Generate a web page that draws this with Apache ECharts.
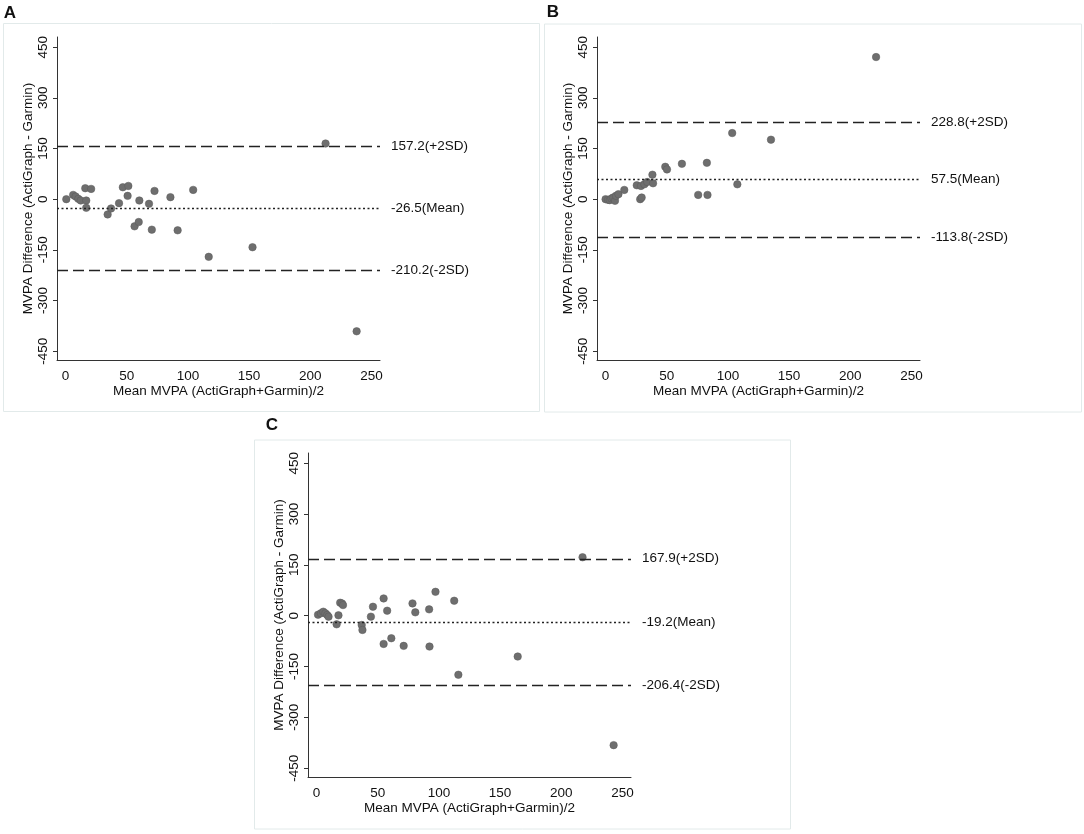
<!DOCTYPE html>
<html>
<head>
<meta charset="utf-8">
<script src="https://cdn.jsdelivr.net/npm/echarts@6/dist/echarts.min.js"></script>
<style>
  html, body { margin: 0; padding: 0; background: #fff; }
  #chart { width: 1084px; height: 834px; }
</style>
</head>
<body>
<div id="chart"></div>
<script>
// tick labels
var xTicks = [0, 50, 100, 150, 200, 250];
var yTicks = [-450, -300, -150, 0, 150, 300, 450];

// panel A : mean MVPA vs difference
var meanA = [0.6, 6.2, 8.2, 10.4, 12.4, 16.1, 16.9, 16.9, 20.9, 34.4, 37.2, 43.7, 46.8, 51.3,
             50.7, 56.4, 59.8, 60.3, 68.2, 70.5, 72.7, 85.7, 91.6, 104.3, 117, 152.8, 212.5, 237.9];
var diffA = [0, 12.7, 7.8, 1, -3.9, 32.4, -3.9, -25.5, 30.4, -45.1, -27.5, -11.8, 35.3, 39.2,
             9.8, -80.4, -67.6, -3.9, -13.7, -90.2, 24.5, 5.9, -92.2, 27.5, -170.6, -142.2, 164.7, -391];
var linesA = [157.2, -26.5, -210.2];

// panel B
var meanB = [0, 2, 3.4, 4.8, 6.2, 7.7, 8.5, 10.5, 15.3, 25.5, 28.3, 29.5, 28.9, 31.7,
             34, 38.3, 38.8, 48.8, 50.2, 62.4, 75.7, 82.8, 83.3, 103.5, 107.7, 135.2, 221.1];
var diffB = [0, -2, -2.9, 2, 4.9, -4.9, 9.8, 14.7, 27.4, 41.1, 0, 4.9, 39.1, 44,
             50.9, 72.4, 47, 95.9, 88.1, 104.7, 12.7, 107.6, 12.7, 195.7, 44, 176.1, 420.7];
var linesB = [228.8, 57.5, -113.8];

// panel C
var meanC = [1.2, 3.5, 5.5, 7.2, 8.7, 9.8, 16.4, 17.9, 19.3, 20.8, 21.6, 36.9, 37.5, 44.4, 46.1,
             54.8, 54.8, 57.7, 61.1, 71.2, 78.4, 80.7, 92, 92.3, 97.2, 112.5, 115.9, 164.4, 217.4, 242.8];
var diffC = [2.9, 6.9, 11.8, 6.9, 2, -2.9, -25.5, 1, 38.2, 36.2, 31.3, -27.4, -42.1, -2.9, 26.4,
             50.9, -83.3, 14.7, -66.6, -89.1, 36.2, 9.8, 18.6, -91.1, 70.5, 44.1, -174.3, -120.5, 172.4, -382];
var linesC = [167.9, -19.2, -206.4];

var lineTags = ['(+2SD)', '(Mean)', '(-2SD)'];
var FONT = 'Liberation Sans, Arial, sans-serif';

function pairs(xs, ys) {
    var out = [];
    for (var i = 0; i < xs.length; i++) out.push([xs[i], ys[i]]);
    return out;
}

function refLines(vals) {
    var out = [];
    for (var i = 0; i < vals.length; i++) {
        out.push({
            yAxis: vals[i],
            label: { formatter: vals[i].toFixed(1) + lineTags[i] },
            lineStyle: { type: i === 1 ? [2, 2.5] : [11, 5] }
        });
    }
    return out;
}

var grids = [
    { left: 57, top: 37, width: 323, height: 323 },
    { left: 597, top: 37, width: 323, height: 323 },
    { left: 308, top: 453, width: 323, height: 324 }
];

var xAxes = [], yAxes = [], series = [];
var sets = [[meanA, diffA, linesA], [meanB, diffB, linesB], [meanC, diffC, linesC]];

for (var k = 0; k < 3; k++) {
    xAxes.push({
        gridIndex: k, type: 'value', min: -7, max: 257,
        name: 'Mean MVPA (ActiGraph+Garmin)/2', nameLocation: 'middle', nameGap: 24,
        nameTextStyle: { fontFamily: FONT, fontSize: 13.5, color: '#111' },
        axisLine: { onZero: false, lineStyle: { color: '#333', width: 1 } },
        axisTick: { show: false },
        axisLabel: { customValues: xTicks, fontFamily: FONT, fontSize: 13.5, color: '#111', margin: 9 },
        splitLine: { show: false }
    });
    yAxes.push({
        gridIndex: k, type: 'value', min: -476, max: 480,
        name: 'MVPA Difference (ActiGraph - Garmin)', nameLocation: 'middle', nameGap: 22,
        nameTextStyle: { fontFamily: FONT, fontSize: 13.5, color: '#111' },
        axisLine: { show: true, onZero: false, lineStyle: { color: '#333', width: 1 } },
        axisTick: { show: true, customValues: yTicks, length: 4, lineStyle: { color: '#333' } },
        axisLabel: { customValues: yTicks, rotate: 90, fontFamily: FONT, fontSize: 13.5, color: '#111', margin: 7 },
        splitLine: { show: false }
    });
    series.push({
        type: 'scatter', xAxisIndex: k, yAxisIndex: k,
        data: pairs(sets[k][0], sets[k][1]),
        symbolSize: 7.5,
        itemStyle: { color: '#6e6e6e', borderColor: '#5a5a5a', borderWidth: 0.5, opacity: 1 },
        markLine: {
            silent: true, symbol: 'none', animation: false,
            lineStyle: { color: '#222', width: 1.3 },
            label: { position: 'end', distance: 11, fontFamily: FONT, fontSize: 13.5, color: '#111' },
            data: refLines(sets[k][2])
        }
    });
}

var option = {
    animation: false,
    backgroundColor: '#fff',
    grid: grids,
    xAxis: xAxes,
    yAxis: yAxes,
    series: series,
    graphic: [
        { type: 'rect', shape: { x: 3.5, y: 23.5, width: 536, height: 388 }, style: { fill: 'none', stroke: '#e2eaea', lineWidth: 1 } },
        { type: 'rect', shape: { x: 544.5, y: 24, width: 537, height: 388 }, style: { fill: 'none', stroke: '#e2eaea', lineWidth: 1 } },
        { type: 'rect', shape: { x: 254.5, y: 440, width: 536, height: 389 }, style: { fill: 'none', stroke: '#e2eaea', lineWidth: 1 } },
        { type: 'text', x: 10, y: 13, style: { text: 'A', font: 'bold 17px ' + FONT, fill: '#111', align: 'center', verticalAlign: 'middle' } },
        { type: 'text', x: 553, y: 12, style: { text: 'B', font: 'bold 17px ' + FONT, fill: '#111', align: 'center', verticalAlign: 'middle' } },
        { type: 'text', x: 272, y: 425, style: { text: 'C', font: 'bold 17px ' + FONT, fill: '#111', align: 'center', verticalAlign: 'middle' } }
    ]
};

var chart = echarts.init(document.getElementById('chart'));
chart.setOption(option);
</script>
</body>
</html>
